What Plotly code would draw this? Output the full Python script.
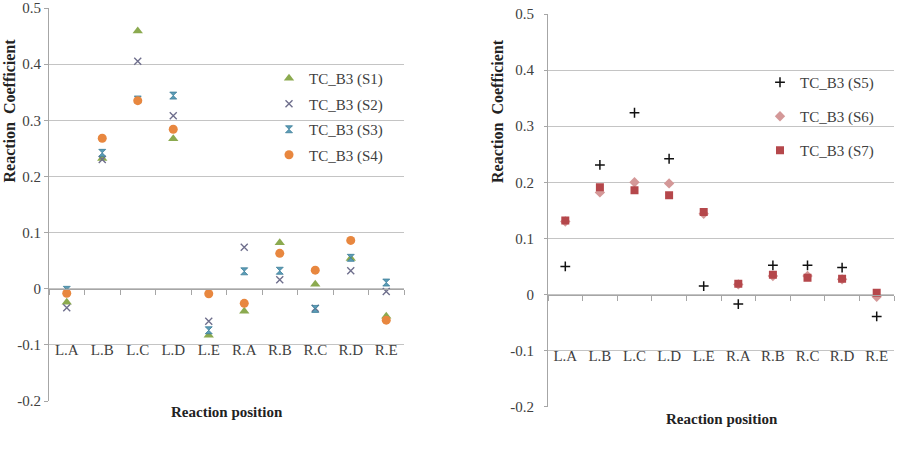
import plotly.graph_objects as go

categories = ["L.A", "L.B", "L.C", "L.D", "L.E", "R.A", "R.B", "R.C", "R.D", "R.E"]

s1 = [-0.024, 0.232, 0.459, 0.267, -0.083, -0.040, 0.082, 0.008, 0.054, -0.049]
s2 = [-0.034, 0.230, 0.405, 0.308, -0.058, 0.074, 0.016, -0.035, 0.032, -0.005]
s3 = [-0.002, 0.242, 0.337, 0.344, -0.074, 0.031, 0.032, -0.036, 0.055, 0.011]
s4 = [-0.008, 0.268, 0.335, 0.284, -0.009, -0.026, 0.063, 0.033, 0.086, -0.056]

s5 = [0.050, 0.231, 0.324, 0.242, 0.015, -0.017, 0.052, 0.052, 0.048, -0.039]
s6 = [0.130, 0.182, 0.200, 0.198, 0.144, 0.018, 0.033, 0.033, 0.027, -0.004]
s7 = [0.132, 0.191, 0.186, 0.177, 0.147, 0.019, 0.035, 0.030, 0.028, 0.003]

y_tickvals = [-0.2, -0.1, 0, 0.1, 0.2, 0.3, 0.4, 0.5]
y_ticktext = ["-0.2", "-0.1", "0", "0.1", "0.2", "0.3", "0.4", "0.5"]

names_left = ["TC_B3 (S1)", "TC_B3 (S2)", "TC_B3 (S3)", "TC_B3 (S4)"]
names_right = ["TC_B3 (S5)", "TC_B3 (S6)", "TC_B3 (S7)"]

W, H = 901, 457
FONT = "Liberation Serif"
GRID = "#C4C4C4"
AXIS = "#A6A6A6"
TXT = "#404040"
YR = [-0.2, 0.5]

fig = go.Figure()

# left chart
fig.add_trace(go.Scatter(x=categories, y=s1, mode="markers", name=names_left[0],
                         marker=dict(symbol="triangle-up", size=9, color="#8BAA4F"),
                         xaxis="x", yaxis="y", legend="legend", legendgroup="a"))
fig.add_trace(go.Scatter(x=categories, y=s2, mode="markers", name=names_left[1],
                         marker=dict(symbol="x-thin", size=7, line=dict(width=1.4, color="#6E6E8C")),
                         xaxis="x", yaxis="y", legend="legend", legendgroup="b"))
fig.add_trace(go.Scatter(x=categories, y=s3, mode="markers", name=names_left[2],
                         marker=dict(symbol="hourglass", size=7, color="#5B9DB8",
                                     line=dict(width=0.8, color="#3F7F99")),
                         xaxis="x", yaxis="y", legend="legend", legendgroup="c"))
fig.add_trace(go.Scatter(x=categories, y=s4, mode="markers", name=names_left[3],
                         marker=dict(symbol="circle", size=9, color="#E8873F"),
                         xaxis="x", yaxis="y", legend="legend", legendgroup="d"))

# right chart
fig.add_trace(go.Scatter(x=categories, y=s5, mode="markers", name=names_right[0],
                         marker=dict(symbol="cross-thin", size=7, line=dict(width=1.5, color="#111111")),
                         xaxis="x2", yaxis="y2", legend="legend2", legendgroup="e"))
fig.add_trace(go.Scatter(x=categories, y=s6, mode="markers", name=names_right[1],
                         marker=dict(symbol="diamond", size=8, color="#D49898"),
                         xaxis="x2", yaxis="y2", legend="legend2", legendgroup="f"))
fig.add_trace(go.Scatter(x=categories, y=s7, mode="markers", name=names_right[2],
                         marker=dict(symbol="square", size=8, color="#B5474B"),
                         xaxis="x2", yaxis="y2", legend="legend2", legendgroup="g"))

L_x = [49 / W, 404 / W]
L_y = [1 - 401 / H, 1 - 8 / H]
R_x = [548 / W, 894 / W]
R_y = [1 - 406.7 / H, 1 - 14 / H]


def frac(dom, v):
    return dom[0] + (dom[1] - dom[0]) * (v - YR[0]) / (YR[1] - YR[0])


def xax(dom, ydom):
    return dict(domain=dom, range=[-0.5, 9.5], type="category", anchor="free",
                position=frac(ydom, 0), showline=True, linecolor=AXIS, linewidth=1,
                ticks="outside", tickson="boundaries", ticklen=5, tickcolor=AXIS,
                showgrid=False, zeroline=False, ticklabelstandoff=47,
                automargin=False,
                tickfont=dict(family=FONT, size=15, color=TXT), fixedrange=True)


def yax(dom, xdom_anchor, ticklen, standoff):
    return dict(domain=dom, range=YR, tickvals=y_tickvals, ticktext=y_ticktext,
                showgrid=True, gridcolor=GRID, gridwidth=1, zeroline=False,
                showline=True, linecolor=AXIS, linewidth=1, anchor=xdom_anchor,
                ticks="outside", ticklen=ticklen, tickcolor=AXIS,
                ticklabelstandoff=standoff, automargin=False,
                tickfont=dict(family=FONT, size=15, color=TXT), fixedrange=True)


fig.update_layout(
    width=W, height=H,
    margin=dict(l=0, r=0, t=0, b=0, autoexpand=False),
    paper_bgcolor="white", plot_bgcolor="white",
    font=dict(family=FONT, size=15, color=TXT),
    showlegend=True,
    xaxis=xax(L_x, L_y),
    yaxis=yax(L_y, "x", 4, 0),
    xaxis2=xax(R_x, R_y),
    yaxis2=yax(R_y, "x2", 3, 7),
    legend=dict(x=269 / W, y=1 - 62 / H, xanchor="left", yanchor="top",
                bgcolor="rgba(0,0,0,0)", tracegroupgap=3,
                font=dict(family=FONT, size=15, color=TXT)),
    legend2=dict(x=760 / W, y=1 - 66 / H, xanchor="left", yanchor="top",
                 bgcolor="rgba(0,0,0,0)", tracegroupgap=11.5,
                 font=dict(family=FONT, size=15, color=TXT)),
    annotations=[
        dict(text="<b>Reaction  Coefficient</b>", x=8.5 / W, y=1 - 111 / H,
             xref="paper", yref="paper", textangle=-90, showarrow=False,
             xanchor="center", yanchor="middle",
             font=dict(family=FONT, size=16, color="#222222")),
        dict(text="<b>Reaction position</b>", x=227 / W, y=1 - 412 / H,
             xref="paper", yref="paper", showarrow=False,
             xanchor="center", yanchor="middle",
             font=dict(family=FONT, size=15, color="#222222")),
        dict(text="<b>Reaction  Coefficient</b>", x=497 / W, y=1 - 111 / H,
             xref="paper", yref="paper", textangle=-90, showarrow=False,
             xanchor="center", yanchor="middle",
             font=dict(family=FONT, size=16, color="#222222")),
        dict(text="<b>Reaction position</b>", x=722 / W, y=1 - 419 / H,
             xref="paper", yref="paper", showarrow=False,
             xanchor="center", yanchor="middle",
             font=dict(family=FONT, size=15, color="#222222")),
    ],
)

fig.write_html("out.html")
